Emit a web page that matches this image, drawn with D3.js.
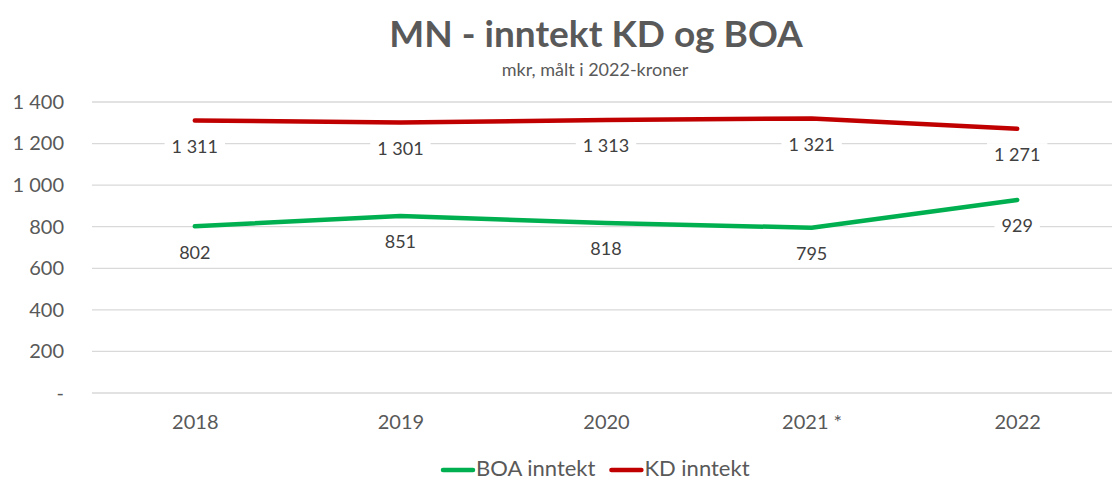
<!DOCTYPE html>
<html>
<head>
<meta charset="utf-8">
<script src="https://cdnjs.cloudflare.com/ajax/libs/d3/7.8.5/d3.min.js"></script>
<style>
  html, body { margin: 0; padding: 0; background: #fff; }
  svg { display: block; font-family: Lato, "Open Sans", sans-serif; }
</style>
</head>
<body>
<div id="chart"></div>
<script>
// data
var years = ['2018', '2019', '2020', '2021 *', '2022'];
var boaValues = [802, 851, 818, 795, 929];
var kdValues = [1311, 1301, 1313, 1321, 1271];
var yTicks = [0, 200, 400, 600, 800, 1000, 1200, 1400];
var seriesNames = ['BOA inntekt', 'KD inntekt'];
var seriesColors = ['#00B050', '#C00000'];

(function(){
  var width = 1112, height = 481,
    margin = {top: 102, right: -8, bottom: 88, left: 92},
    plotW = width - margin.left - margin.right,
    plotH = height - margin.top - margin.bottom;

  var nb = d3.formatLocale({decimal: ',', thousands: ' ', grouping: [3], currency: ['', ' kr']});
  var fmt = function(v){ return v === 0 ? '-' : nb.format(',')(v); };

  var svg = d3.select('#chart').append('svg')
    .attr('width', width).attr('height', height);

  // title
  svg.append('text')
    .attr('x', 596).attr('y', 47)
    .attr('text-anchor', 'middle')
    .attr('font-size', 37).attr('font-weight', 'bold')
    .attr('fill', '#595959')
    .text('MN - inntekt KD og BOA');
  svg.append('text')
    .attr('x', 595).attr('y', 76)
    .attr('text-anchor', 'middle')
    .attr('font-size', 18)
    .attr('fill', '#595959')
    .text('mkr, målt i 2022-kroner');

  var g = svg.append('g').attr('transform', 'translate(' + margin.left + ',' + margin.top + ')');

  var x = d3.scalePoint().domain(years).range([0, plotW]).padding(0.5);
  var y = d3.scaleLinear().domain([0, 1400]).range([plotH, 0]);

  // gridlines
  g.append('g').selectAll('line').data(yTicks).join('line')
    .attr('x1', 0).attr('x2', plotW)
    .attr('y1', function(d){ return y(d); }).attr('y2', function(d){ return y(d); })
    .attr('stroke', '#d9d9d9').attr('stroke-width', 1.3);

  // y axis labels
  var yAxis = g.append('g')
    .call(d3.axisLeft(y).tickValues(yTicks).tickSize(0).tickPadding(28).tickFormat(fmt));
  yAxis.select('.domain').remove();
  yAxis.selectAll('text')
    .attr('font-family', 'Lato, "Open Sans", sans-serif')
    .attr('font-size', 20).attr('fill', '#595959');

  // x axis labels
  var xAxis = g.append('g').attr('transform', 'translate(0,' + plotH + ')')
    .call(d3.axisBottom(x).tickSize(0).tickPadding(22));
  xAxis.select('.domain').remove();
  xAxis.selectAll('text')
    .attr('font-family', 'Lato, "Open Sans", sans-serif')
    .attr('font-size', 20).attr('fill', '#595959');

  var series = [boaValues, kdValues];
  var line = d3.line()
    .x(function(d, i){ return x(years[i]); })
    .y(function(d){ return y(d); });

  series.forEach(function(vals, s){
    g.append('path')
      .datum(vals)
      .attr('d', line)
      .attr('fill', 'none')
      .attr('stroke', seriesColors[s])
      .attr('stroke-width', 4.5)
      .attr('stroke-linecap', 'round')
      .attr('stroke-linejoin', 'round');
  });

  // data labels below each point, with white backing
  series.forEach(function(vals){
    var lg = g.append('g').selectAll('g').data(vals).join('g')
      .attr('transform', function(d, i){ return 'translate(' + x(years[i]) + ',' + (y(d) + 26) + ')'; });
    var t = lg.append('text')
      .attr('text-anchor', 'middle')
      .attr('dy', '0.35em')
      .attr('font-size', 18).attr('fill', '#404040')
      .text(function(d){ return fmt(d); });
    t.each(function(){
      var b = this.getBBox();
      d3.select(this.parentNode).insert('rect', 'text')
        .attr('x', b.x - 7).attr('y', b.y)
        .attr('width', b.width + 14).attr('height', b.height)
        .attr('fill', '#fff');
    });
  });

  // legend
  var legend = svg.append('g');
  var lx = 443, ly = 467;
  seriesNames.forEach(function(name, i){
    var item = legend.append('g');
    item.append('line')
      .attr('x1', 0).attr('x2', 30).attr('y1', 3).attr('y2', 3)
      .attr('stroke', seriesColors[i]).attr('stroke-width', 4.5)
      .attr('stroke-linecap', 'round');
    var t = item.append('text')
      .attr('x', 33).attr('dy', '0.4em')
      .attr('font-size', 22).attr('fill', '#595959')
      .text(name);
    item.attr('transform', 'translate(' + lx + ',' + ly + ')');
    lx += 33 + t.node().getComputedTextLength() + 16;
  });
})();
</script>
</body>
</html>
